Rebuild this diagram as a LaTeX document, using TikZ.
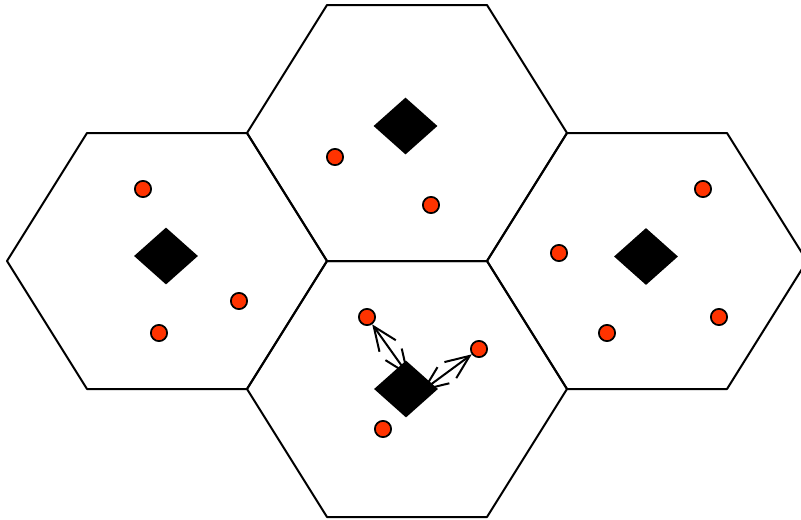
\documentclass[tikz,border=0pt]{standalone}
\usetikzlibrary{shapes.geometric,arrows.meta}
\definecolor{userred}{RGB}{255,51,0}
\begin{document}
\begin{tikzpicture}[x=0.75pt, y=-0.75pt, line cap=round, line join=round,
  cell/.style={draw=black, line width=1.5pt},
  station/.style={diamond, fill=black, inner sep=0pt, minimum width=48pt, minimum height=42.75pt},
  user/.style={circle, draw=black, fill=userred, line width=1.3pt, inner sep=0pt, minimum size=12.2pt},
  link/.style={line width=1.5pt, {Straight Barb[length=18pt, width=15pt]}-{Straight Barb[length=18pt, width=15pt]}}]
\useasboundingbox (0,0) rectangle (801,519);
% Hexagonal cells
\def\hexcell#1#2{\draw[cell] (#1-160,#2) -- (#1-80,#2-128) -- (#1+80,#2-128) -- (#1+160,#2) -- (#1+80,#2+128) -- (#1-80,#2+128) -- cycle;}
\hexcell{167}{261}
\hexcell{407}{133}
\hexcell{407}{389}
\hexcell{647}{261}
% Users in each cell
\node[user] (uL1) at (143,189) {};
\node[user] (uL2) at (239,301) {};
\node[user] (uL3) at (159,333) {};
\node[user] (uT1) at (335,157) {};
\node[user] (uT2) at (431,205) {};
\node[user] (uR1) at (703,189) {};
\node[user] (uR2) at (559,253) {};
\node[user] (uR3) at (607,333) {};
\node[user] (uR4) at (719,317) {};
\node[user] (uB1) at (367,317) {};
\node[user] (uB2) at (479,349) {};
\node[user] (uB3) at (383,429) {};
% Links in the lower cell (under the base station)
\coordinate (bsA) at (409,376);
\coordinate (bsB) at (422,391);
\draw[link] (bsA) -- (uB1);
\draw[link] (bsB) -- (uB2);
% Base stations
\node[station] (bsL) at (166,256) {};
\node[station] (bsT) at (405.5,126) {};
\node[station] (bsB) at (406,389) {};
\node[station] (bsR) at (646,256.5) {};
\end{tikzpicture}
\end{document}
